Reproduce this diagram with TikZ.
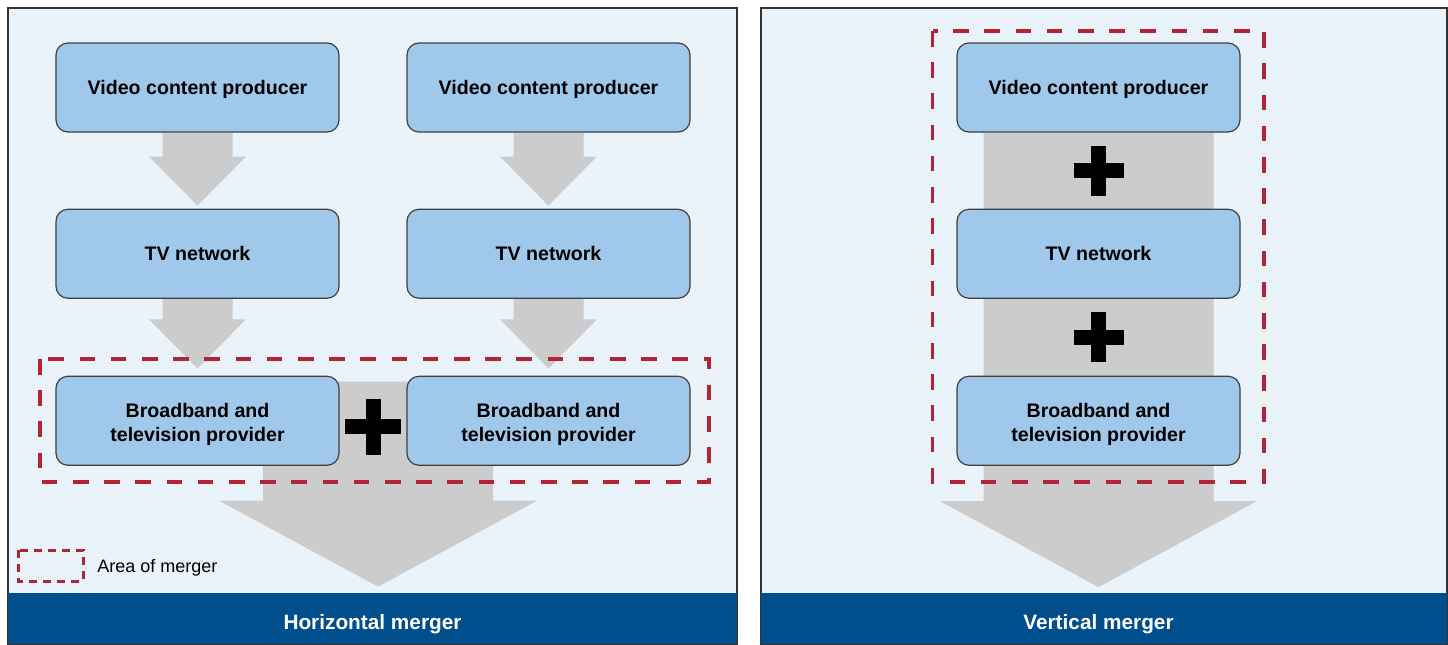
\documentclass[tikz,border=0pt]{standalone}
\usepackage{fontspec}
\setmainfont{Liberation Sans}
\usetikzlibrary{calc}

\definecolor{panelfill}{RGB}{234,242,250}
\definecolor{firmfill}{RGB}{159,200,234}
\definecolor{arrowgray}{RGB}{204,204,204}
\definecolor{bandblue}{RGB}{0,78,140}
\definecolor{mergerred}{RGB}{178,36,54}

\pgfdeclarelayer{panel}
\pgfdeclarelayer{flow}
\pgfsetlayers{panel,flow,main}

\tikzset{
  firm/.style={draw=black!75, line width=0.6pt, fill=firmfill, rounded corners=6pt,
    minimum width=141.5pt, minimum height=44.5pt, inner sep=0pt, align=center,
    font=\fontsize{9.8}{12}\selectfont\bfseries, text depth=0pt},
  twoline/.style={text height=21pt},
  bandlabel/.style={text=white, font=\fontsize{10.4}{12}\selectfont\bfseries},
  mergerarea/.style={draw=mergerred, line width=1.6pt, dash pattern=on 7.8pt off 7.8pt},
}

% block arrow: start, shaft half width, head half width, shaft length, head length
\newcommand{\flowarrow}[5]{%
  \fill[arrowgray] ($(#1)+(-#2,0)$) -- ++({2*#2},0) -- ++(0,#4) -- ++({#3-#2},0)
    -- ++({-#3},#5) -- ++({-#3},{-#5}) -- ++({#3-#2},0) -- cycle;}
% plus sign: centre, size, bar thickness
\newcommand{\plussign}[3]{%
  \fill[black] ($(#1)+({-#2/2},{-#3/2})$) rectangle ++(#2,#3);
  \fill[black] ($(#1)+({-#3/2},{-#2/2})$) rectangle ++(#3,#2);}

\begin{document}
\begin{tikzpicture}[x=0.5pt,y=-0.5pt]
\useasboundingbox (0,0) rectangle (1448,644);

% panels
\begin{pgfonlayer}{panel}
  \draw[black!80, line width=0.6pt, fill=panelfill] (8,8) rectangle (737,644);
  \fill[bandblue] (8,593) rectangle (737,644);
  \draw[black!80, line width=0.6pt, fill=panelfill] (761,8) rectangle (1447,644);
  \fill[bandblue] (761,593) rectangle (1447,644);
\end{pgfonlayer}
\node[bandlabel] (hlabel) at (372.5,624) {Horizontal merger};
\node[bandlabel] (vlabel) at (1098.5,624) {Vertical merger};

%% Horizontal merger
\node[firm] (vcpA) at (197.5,87.5) {Video content producer};
\node[firm] (tvA) at (197.5,253.75) {TV network};
\node[firm, twoline] (btpA) at (197.5,420.75) {Broadband and\\television provider};
\node[firm] (vcpB) at (548.5,87.5) {Video content producer};
\node[firm] (tvB) at (548.5,253.75) {TV network};
\node[firm, twoline] (btpB) at (548.5,420.75) {Broadband and\\television provider};

\coordinate (hjoin) at ($(btpA.north east)!0.5!(btpB.north west)+(5,6)$);
\coordinate (hplus) at ($(btpA.east)!0.5!(btpB.west)+(0,6)$);

\begin{pgfonlayer}{flow}
  \flowarrow{vcpA.south}{35}{48.5}{24}{49}
  \flowarrow{tvA.south}{35}{48.5}{20.5}{49}
  \flowarrow{vcpB.south}{35}{48.5}{24}{49}
  \flowarrow{tvB.south}{35}{48.5}{20.5}{49}
  \flowarrow{hjoin}{115}{159}{119}{86}
\end{pgfonlayer}
\plussign{hplus}{56}{15}

\draw[mergerarea] (40,359) rectangle (709,482);

% legend
\draw[draw=mergerred, line width=1.5pt, dash pattern=on 4pt off 3pt] (18,550) rectangle (83,581);
\node[anchor=west, inner sep=0pt, font=\fontsize{9}{11}\selectfont] (legend) at (97,567.5) {Area of merger};

%% Vertical merger
\node[firm] (vcpC) at (1098.5,87.5) {Video content producer};
\node[firm] (tvC) at (1098.5,253.75) {TV network};
\node[firm, twoline] (btpC) at (1098.5,420.75) {Broadband and\\television provider};

\coordinate (vplusA) at ($(vcpC.south)!0.5!(tvC.north)$);
\coordinate (vplusB) at ($(tvC.south)!0.5!(btpC.north)$);

\begin{pgfonlayer}{flow}
  \flowarrow{vcpC.south}{115}{158.5}{368.5}{86}
\end{pgfonlayer}
\plussign{vplusA}{50}{15}
\plussign{vplusB}{50}{15}

\draw[mergerarea] (932.5,31) rectangle (1264,482);
\end{tikzpicture}
\end{document}
